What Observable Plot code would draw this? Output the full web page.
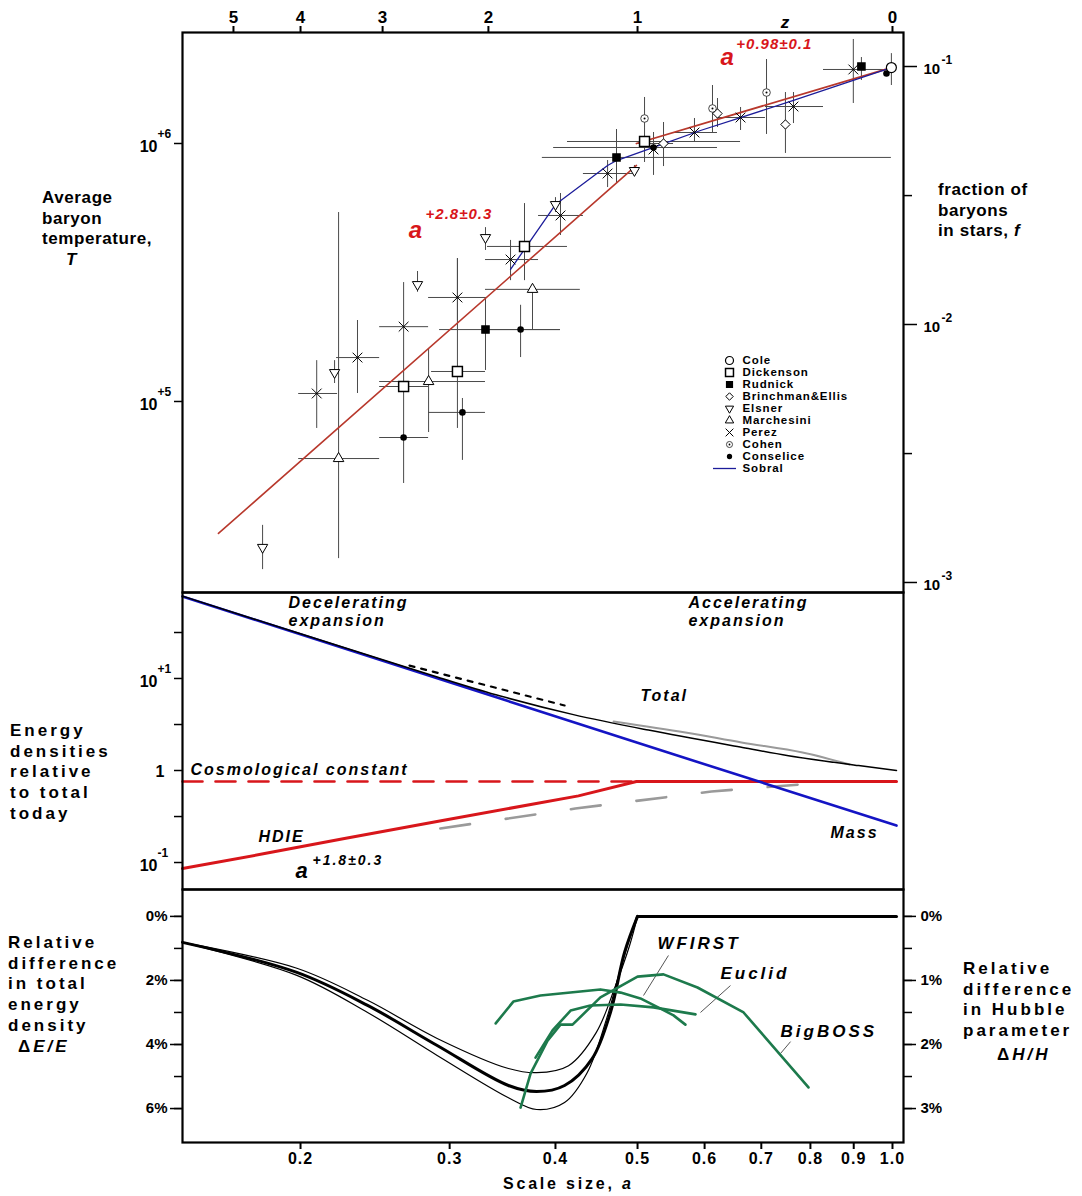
<!DOCTYPE html>
<html><head><meta charset="utf-8">
<script src="https://cdn.jsdelivr.net/npm/d3@7"></script>
<script src="https://cdn.jsdelivr.net/npm/@observablehq/plot@0.6"></script>
<style>
body{margin:0;background:#fff;}
#wrap{position:relative;width:1082px;height:1196px;font-family:"Liberation Sans",Arial,sans-serif;font-weight:bold;color:#000;overflow:hidden;}
.lab{position:absolute;font-size:17px;line-height:20.7px;font-weight:bold;letter-spacing:0.6px;white-space:nowrap;}
.wide{letter-spacing:3px;}
.panel{position:absolute;left:0;}
.panel svg{overflow:visible;}
</style></head><body><div id="wrap"></div>
<script>
// ---------------- DATA ----------------
// top axis (redshift) and bottom axis (scale size) ticks
const zTicks = [5, 4, 3, 2, 1, 0];
const aTicks = [0.2, 0.3, 0.4, 0.5, 0.6, 0.7, 0.8, 0.9, 1.0];
const tempTicks = [1e6, 1e5];
const fracMajor = [1e-1, 1e-2, 1e-3];
const fracMinor = [0.0316, 0.00316];
const fracToT = 1.988e7;          // T corresponding to f = 1
const energyMajor = [10, 1, 0.1];
const energyMinor = [31.6, 10, 3.16, 1, 0.316, 0.1];
const dEMajor = [0, 2, 4, 6];
const dEMinor = [0, 1, 2, 3, 4, 5, 6];

// Top panel observations: scale size a, temperature T (K) with error ranges
const cole = [{a:0.997, T:1.97e6, TLo:1.678e6, THi:2.23e6}];
const dickenson = [
 {a:0.2647, aLo:0.248, aHi:0.2833, T:1.143e5, TLo:4.81e4, THi:2.89e5},
 {a:0.3064, aLo:0.2856, aHi:0.3307, T:1.307e5, TLo:7.86e4, THi:3.58e5},
 {a:0.3677, aLo:0.3325, aHi:0.4133, T:3.99e5, TLo:2.94e5, THi:5.85e5},
 {a:0.5096, aLo:0.4133, aHi:0.6616, T:1.018e6, TLo:8.44e5, THi:1.153e6}
];
const rudnick = [
 {a:0.3307, aLo:0.2919, aHi:0.4055, T:1.90e5, TLo:1.319e5, THi:2.53e5},
 {a:0.4722, aLo:0.386, aHi:0.997, T:8.83e5, TLo:7.0e5, THi:1.133e6},
 {a:0.919, T:1.988e6, TLo:1.755e6, THi:2.154e6}
];
const brinchman = [
 {a:0.5366, aLo:0.5, aHi:0.5514, T:1.0e6, TLo:8.14e5, THi:1.206e6},
 {a:0.6214, T:1.307e6, TLo:1.153e6, THi:1.494e6},
 {a:0.7475, T:1.185e6, TLo:9.15e5, THi:1.576e6}
];
const elsner = [
 {a:0.1804, T:2.72e4, TLo:2.23e4, THi:3.31e4},
 {a:0.2194, T:1.295e5, TLo:1.174e5, THi:1.44e5},
 {a:0.2749, T:2.84e5, TLo:2.65e5, THi:3.19e5},
 {a:0.3307, T:4.32e5, TLo:3.85e5, THi:4.72e5},
 {a:0.400, T:5.80e5, TLo:5.40e5, THi:6.17e5},
 {a:0.4958, T:7.86e5, TLo:7.52e5, THi:8.22e5}
];
const marchesini = [
 {a:0.2218, aLo:0.199, aHi:0.248, T:6.01e4, TLo:2.46e4, THi:5.40e5},
 {a:0.2833, aLo:0.248, aHi:0.3307, T:1.195e5, TLo:7.58e4, THi:1.605e5},
 {a:0.3758, aLo:0.3307, aHi:0.428, T:2.72e5, TLo:1.885e5, THi:2.72e5}
];
const perez = [
 {a:0.209, aLo:0.199, aHi:0.2212, T:1.074e5, TLo:7.86e4, THi:1.44e5},
 {a:0.2335, aLo:0.2206, aHi:0.248, T:1.48e5, TLo:1.074e5, THi:2.06e5},
 {a:0.2647, aLo:0.248, aHi:0.2833, T:1.95e5},
 {a:0.3064, aLo:0.2833, aHi:0.3307, T:2.53e5, TLo:2.06e5, THi:3.58e5},
 {a:0.354, aLo:0.3307, aHi:0.382, T:3.55e5, TLo:2.94e5, THi:4.21e5},
 {a:0.4055, aLo:0.382, aHi:0.4316, T:5.26e5, TLo:4.40e5, THi:6.40e5},
 {a:0.4609, aLo:0.4316, aHi:0.4945, T:7.65e5, TLo:6.75e5, THi:8.59e5},
 {a:0.5222, T:9.48e5, TLo:7.52e5, THi:1.103e6},
 {a:0.5837, aLo:0.5514, aHi:0.6214, T:1.103e6, TLo:1.009e6, THi:1.25e6},
 {a:0.6616, aLo:0.6214, aHi:0.708, T:1.261e6, TLo:1.123e6, THi:1.379e6},
 {a:0.764, aLo:0.708, aHi:0.829, T:1.391e6, TLo:1.195e6, THi:1.576e6},
 {a:0.899, aLo:0.829, aHi:0.9758, T:1.936e6, TLo:1.429e6, THi:2.53e6}
];
const cohen = [
 {a:0.5096, T:1.25e6, TLo:1.153e6, THi:1.508e6},
 {a:0.613, T:1.367e6, TLo:1.103e6, THi:1.678e6},
 {a:0.71, T:1.576e6, TLo:1.084e6, THi:2.116e6}
];
const conselice = [
 {a:0.2647, aLo:0.248, aHi:0.2833, T:7.25e4},
 {a:0.3106, aLo:0.2833, aHi:0.3307, T:9.07e4, TLo:5.91e4, THi:1.027e5},
 {a:0.3638, aLo:0.3307, aHi:0.4055, T:1.90e5, TLo:1.48e5, THi:2.36e5},
 {a:0.5222, aLo:0.398, aHi:0.6214, T:9.65e5},
 {a:0.9838, T:1.867e6}
];
const sobral = [
 {a:0.354, T:3.25e5}, {a:0.400, T:5.80e5}, {a:0.4609, T:8.22e5}, {a:0.4722, T:8.59e5},
 {a:0.5222, T:9.65e5}, {a:0.5933, T:1.123e6}, {a:0.6616, T:1.261e6}, {a:0.764, T:1.468e6}, {a:0.997, T:1.97e6}
];
const fitEarly = [{a:0.160, T:3.08e4}, {a:0.4985, T:8.22e5}];
const fitLate = [{a:0.4985, T:1.0e6}, {a:0.997, T:1.97e6}];

// Middle panel: energy densities relative to total today
const mass = [{a:0.1451, v:78}, {a:0.3, v:9.1}, {a:0.5, v:2.0}, {a:1.011, v:0.252}];
const total = [{a:0.1451, v:78.5}, {a:0.2, v:30.6}, {a:0.29, v:10.4}, {a:0.3444, v:6.45}, {a:0.42, v:4.05},
  {a:0.515, v:2.75}, {a:0.665, v:1.78}, {a:0.7536, v:1.45}, {a:0.912, v:1.13}, {a:1.011, v:1.0}];
const totalAlt = [{a:0.269, v:12.8}, {a:0.410, v:4.72}];
const totalGray = [{a:0.4685, v:3.41}, {a:0.5695, v:2.59}, {a:0.6633, v:2.02}, {a:0.783, v:1.57}, {a:0.89, v:1.16}];
const lambdaConst = [{a:0.1451, v:0.76}, {a:0.4985, v:0.76}];
const hdie = [{a:0.1451, v:0.0861}, {a:0.1814, v:0.125}, {a:0.2254, v:0.182}, {a:0.2942, v:0.286},
  {a:0.4258, v:0.53}, {a:0.4985, v:0.76}, {a:1.011, v:0.76}];
const hdieGray = [{a:0.2925, v:0.234}, {a:0.4222, v:0.386}, {a:0.6113, v:0.591}, {a:0.8043, v:0.722}];

// Bottom panel: relative difference in total energy density (%)
const dEmid = [{a:0.1451, p:0.81}, {a:0.198, p:1.75}, {a:0.24, p:2.78}, {a:0.29, p:4.03}, {a:0.352, p:5.28},
  {a:0.38, p:5.47}, {a:0.41, p:5.28}, {a:0.442, p:4.44}, {a:0.4645, p:3.0}, {a:0.4827, p:1.12}, {a:0.5, p:0}];
const dEflat = [{a:0.5, p:0}, {a:1.011, p:0}];
const dEupper = [{a:0.1451, p:0.81}, {a:0.198, p:1.62}, {a:0.24, p:2.62}, {a:0.29, p:3.81}, {a:0.352, p:4.75},
  {a:0.38, p:4.88}, {a:0.4145, p:4.66}, {a:0.447, p:3.62}, {a:0.471, p:2.16}, {a:0.4893, p:0.91}, {a:0.5, p:0}];
const dElower = [{a:0.1451, p:0.81}, {a:0.198, p:1.84}, {a:0.24, p:3.0}, {a:0.29, p:4.34}, {a:0.352, p:5.66},
  {a:0.38, p:6.03}, {a:0.41, p:5.81}, {a:0.436, p:4.88}, {a:0.4597, p:3.19}, {a:0.4775, p:1.62}, {a:0.4987, p:0}];
const wfirst = [{a:0.340, p:3.34}, {a:0.3567, p:2.66}, {a:0.384, p:2.47}, {a:0.452, p:2.28}, {a:0.4775, p:2.38},
  {a:0.5039, p:2.56}, {a:0.5323, p:2.88}, {a:0.5514, p:3.09}, {a:0.5695, p:3.38}];
const euclid = [{a:0.3789, p:4.41}, {a:0.3968, p:3.56}, {a:0.4168, p:2.94}, {a:0.4398, p:2.78}, {a:0.4775, p:2.75},
  {a:0.5222, p:2.84}, {a:0.5854, p:3.06}];
const bigboss = [{a:0.3638, p:5.97}, {a:0.3738, p:4.91}, {a:0.3915, p:3.88}, {a:0.4055, p:3.38}, {a:0.419, p:3.38},
  {a:0.452, p:2.53}, {a:0.5, p:1.88}, {a:0.5366, p:1.81}, {a:0.5885, p:2.22}, {a:0.6671, p:3.0}, {a:0.7958, p:5.34}];
const leaders = [
  {name:"WFIRST", a1:0.5438, p1:1.22, a2:0.5082, p2:2.47},
  {name:"Euclid", a1:0.6437, p1:2.16, a2:0.5933, p2:3.0},
  {name:"BigBOSS", a1:0.758, p1:3.91, a2:0.7376, p2:4.28}
];
const missionLabels = [
  {text:"WFIRST", a:0.5278, p:0.84}, {text:"Euclid", a:0.6264, p:1.78}, {text:"BigBOSS", a:0.7376, p:3.59}
];
const legendNames = ["Cole","Dickenson","Rudnick","Brinchman&Ellis","Elsner","Marchesini","Perez","Cohen","Conselice","Sobral"];

// ---------------- STYLE ----------------
const FONT = '"Liberation Sans", Arial, sans-serif';
const RED = "#d8161b", FIT = "#b8382c", NAVY = "#1c1c9a", BLUE = "#1414c4", GREEN = "#1d7a4c";
const W = 1082, ML = 182, MR = 1082 - 903;
const xDomain = [0.1451, 1.0304];
const wrap = document.getElementById("wrap");

function place(node, top) {
  const d = document.createElement("div");
  d.className = "panel"; d.style.top = top + "px";
  d.appendChild(node); wrap.appendChild(d);
}
function label(html, left, top, extra = "", cls = "") {
  const d = document.createElement("div");
  d.className = "lab " + cls; d.style.left = left + "px"; d.style.top = top + "px";
  d.style.cssText += extra; d.innerHTML = html; wrap.appendChild(d);
}
function spaceItalic(svg, px) {
  d3.select(svg).selectAll('g[font-style="italic"] text').style("letter-spacing", px + "px");
}
const sty = {fontFamily: FONT, fontWeight: "bold", fontSize: "15px", overflow: "visible", background: "transparent"};

const sym = {
  cole: {symbol:"circle", r:5, fill:"white", stroke:"black", strokeWidth:1.2},
  dickenson: {symbol:"square", r:5.6, fill:"white", stroke:"black", strokeWidth:1.5},
  rudnick: {symbol:"square", r:4, fill:"black", stroke:"black"},
  brinchman: {symbol:"diamond2", r:4.2, fill:"white", stroke:"black", strokeWidth:1},
  elsner: {symbol:"triangle", r:3.8, rotate:180, fill:"white", stroke:"black", strokeWidth:1},
  marchesini: {symbol:"triangle", r:3.9, fill:"white", stroke:"black", strokeWidth:1},
  perez: {symbol:"times", r:4.5, stroke:"black", strokeWidth:1},
  cohen: {symbol:"circle", r:3.8, fill:"white", stroke:"#333", strokeWidth:0.9},
  conselice: {symbol:"circle", r:3.3, fill:"black", stroke:"none"}
};
const allObs = [...cole, ...dickenson, ...rudnick, ...brinchman, ...elsner, ...marchesini, ...perez, ...cohen, ...conselice];

// ---------------- TOP PANEL ----------------
const topPlot = Plot.plot({
  width: W, height: 592, marginTop: 32, marginBottom: 0, marginLeft: ML, marginRight: MR,
  x: {type: "log", domain: xDomain, axis: null},
  y: {type: "log", domain: [1.818e4, 2.693e6], axis: null},
  style: sty,
  marks: [
    Plot.ruleX(allObs.filter(d => d.TLo != null), {x: "a", y1: "TLo", y2: "THi", stroke: "#4a4a4a", strokeWidth: 1}),
    Plot.ruleY(allObs.filter(d => d.aLo != null), {y: "T", x1: "aLo", x2: "aHi", stroke: "#4a4a4a", strokeWidth: 1}),
    Plot.line(fitEarly, {x: "a", y: "T", stroke: FIT, strokeWidth: 1.6}),
    Plot.line(fitLate, {x: "a", y: "T", stroke: FIT, strokeWidth: 1.8}),
    Plot.line(sobral, {x: "a", y: "T", stroke: NAVY, strokeWidth: 1.3}),
    Plot.dot(cohen, {x: "a", y: "T", ...sym.cohen}),
    Plot.dot(cohen, {x: "a", y: "T", r: 1, fill: "black"}),
    Plot.dot(brinchman, {x: "a", y: "T", ...sym.brinchman}),
    Plot.dot(elsner, {x: "a", y: "T", ...sym.elsner}),
    Plot.dot(marchesini, {x: "a", y: "T", ...sym.marchesini}),
    Plot.dot(perez, {x: "a", y: "T", ...sym.perez}),
    Plot.dot(dickenson, {x: "a", y: "T", ...sym.dickenson}),
    Plot.dot(rudnick, {x: "a", y: "T", ...sym.rudnick}),
    Plot.dot(conselice, {x: "a", y: "T", ...sym.conselice}),
    Plot.dot(cole, {x: "a", y: "T", ...sym.cole}),
    // fit annotations
    Plot.text([{a:0.2684, T:4.62e5}], {x:"a", y:"T", text:() => "a", fill:RED, fontSize:24, fontStyle:"italic", textAnchor:"start"}),
    Plot.text([{a:0.281, T:5.3e5}], {x:"a", y:"T", text:() => "+2.8\u00b10.3", fill:RED, fontSize:15, fontStyle:"italic", textAnchor:"start"}),
    Plot.text([{a:0.6264, T:2.16e6}], {x:"a", y:"T", text:() => "a", fill:RED, fontSize:24, fontStyle:"italic", textAnchor:"start"}),
    Plot.text([{a:0.654, T:2.42e6}], {x:"a", y:"T", text:() => "+0.98\u00b10.1", fill:RED, fontSize:15, fontStyle:"italic", textAnchor:"start"}),
    Plot.frame({stroke: "black", strokeWidth: 2.2}),
    // top redshift axis
    Plot.axisX({anchor: "top", ticks: zTicks.map(z => 1 / (1 + z)), tickFormat: a => String(Math.round(1 / a - 1)),
      tickSize: 7, tickPadding: 3, fontSize: 17, strokeWidth: 2, label: null}),
    Plot.text(["z"], {x: () => 0.7475, frameAnchor: "top", dy: -17, text: d => d, fontSize: 17, fontStyle: "italic"}),
    // left temperature axis
    Plot.axisY({anchor: "left", ticks: tempTicks, tickSize: 8, tickFormat: () => "", strokeWidth: 1.5, label: null}),
    Plot.text(tempTicks, {y: d => d, frameAnchor: "left", dx: -25, dy: 3, text: () => "10", textAnchor: "end", fontSize: 16}),
    Plot.text(tempTicks, {y: d => d, frameAnchor: "left", dx: -25, dy: -9, text: d => "+" + Math.round(Math.log10(d)), textAnchor: "start", fontSize: 12}),
    // right fraction axis
    Plot.axisY({anchor: "right", ticks: fracMajor.map(f => f * fracToT), tickSize: 13, tickFormat: () => "", strokeWidth: 1.5, label: null}),
    Plot.axisY({anchor: "right", ticks: fracMinor.map(f => f * fracToT), tickSize: 8, tickFormat: () => "", strokeWidth: 1.5, label: null}),
    Plot.text(fracMajor, {y: d => d * fracToT, frameAnchor: "right", dx: 20, dy: 3, text: () => "10", textAnchor: "start", fontSize: 15}),
    Plot.text(fracMajor, {y: d => d * fracToT, frameAnchor: "right", dx: 38, dy: -6, text: d => "-" + Math.round(-Math.log10(d)), textAnchor: "start", fontSize: 12})
  ]
});
spaceItalic(topPlot, 1);
place(topPlot, 0);

// legend
const legendData = legendNames.map(n => ({n}));
const legKey = {Cole:"cole", Dickenson:"dickenson", Rudnick:"rudnick", "Brinchman&Ellis":"brinchman", Elsner:"elsner",
  Marchesini:"marchesini", Perez:"perez", Cohen:"cohen", Conselice:"conselice"};
const legendMarks = [];
for (const n of legendNames) {
  const one = legendData.filter(d => d.n === n);
  if (n === "Sobral") {
    legendMarks.push(Plot.ruleY(one, {y: "n", x1: 8, x2: 31, stroke: NAVY, strokeWidth: 1.3}));
  } else {
    const s = {...sym[legKey[n]]}; s.r = s.r * 0.8;
    legendMarks.push(Plot.dot(one, {y: "n", x: () => 24, ...s}));
    if (n === "Cohen") legendMarks.push(Plot.dot(one, {y: "n", x: () => 24, r: 0.9, fill: "black"}));
  }
}
legendMarks.push(Plot.text(legendData, {y: "n", x: () => 37, text: "n", textAnchor: "start", fontSize: 11.5}));
const legendPlot = Plot.plot({
  width: 170, height: 130, margin: 0,
  x: {domain: [0, 170], range: [0, 170], axis: null},
  y: {type: "point", domain: legendNames, range: [8, 120], padding: 0, axis: null},
  style: {...sty, letterSpacing: "0.9px"}, marks: legendMarks
});
const lg = document.createElement("div"); lg.className = "panel"; lg.style.left = "705px"; lg.style.top = "350px";
lg.appendChild(legendPlot); wrap.appendChild(lg);

// ---------------- MIDDLE PANEL ----------------
const midPlot = Plot.plot({
  width: W, height: 297, marginTop: 0, marginBottom: 0, marginLeft: ML, marginRight: MR,
  x: {type: "log", domain: xDomain, axis: null},
  y: {type: "log", domain: [0.0509, 86.0], axis: null},
  style: sty,
  marks: [
    Plot.line(hdieGray, {x: "a", y: "v", stroke: "#9a9a9a", strokeWidth: 2.6, strokeDasharray: "30,36"}),
    Plot.line(totalGray, {x: "a", y: "v", stroke: "#9a9a9a", strokeWidth: 2, curve: "catmull-rom"}),
    Plot.line(lambdaConst, {x: "a", y: "v", stroke: RED, strokeWidth: 2.6, strokeDasharray: "20,13"}),
    Plot.line(hdie, {x: "a", y: "v", stroke: RED, strokeWidth: 3}),
    Plot.line(mass, {x: "a", y: "v", stroke: BLUE, strokeWidth: 2.6}),
    Plot.line(total, {x: "a", y: "v", stroke: "black", strokeWidth: 1.5, curve: "catmull-rom"}),
    Plot.line(totalAlt, {x: "a", y: "v", stroke: "black", strokeWidth: 2.2, strokeDasharray: "5,7", dy: -3}),
    Plot.text(["Decelerating", "expansion"], {x: () => 0.1936, y: (d, i) => [67, 42.7][i], text: d => d, textAnchor: "start", fontStyle: "italic", fontSize: 16}),
    Plot.text(["Accelerating", "expansion"], {x: () => 0.5742, y: (d, i) => [67, 42.7][i], text: d => d, textAnchor: "start", fontStyle: "italic", fontSize: 16}),
    Plot.text(["Total"], {x: () => 0.5039, y: () => 6.53, text: d => d, textAnchor: "start", fontStyle: "italic", fontSize: 16}),
    Plot.text(["Cosmological constant"], {x: () => 0.1483, y: () => 1.025, text: d => d, textAnchor: "start", fontStyle: "italic", fontSize: 16}),
    Plot.text(["HDIE"], {x: () => 0.1784, y: () => 0.1917, text: d => d, textAnchor: "start", fontStyle: "italic", fontSize: 16}),
    Plot.text(["Mass"], {x: () => 0.845, y: () => 0.212, text: d => d, textAnchor: "start", fontStyle: "italic", fontSize: 16}),
    Plot.text(["a"], {x: () => 0.1973, y: () => 0.0818, text: d => d, textAnchor: "start", fontStyle: "italic", fontSize: 22}),
    Plot.text(["+1.8\u00b10.3"], {x: () => 0.2066, y: () => 0.106, text: d => d, textAnchor: "start", fontStyle: "italic", fontSize: 14}),
    Plot.frame({stroke: "black", strokeWidth: 2.2}),
    Plot.axisY({anchor: "left", ticks: energyMinor, tickSize: 8, tickFormat: () => "", strokeWidth: 1.5, label: null}),
    Plot.text(energyMajor.filter(d => d !== 1), {y: d => d, frameAnchor: "left", dx: -25, dy: 3, text: () => "10", textAnchor: "end", fontSize: 16}),
    Plot.text(energyMajor.filter(d => d !== 1), {y: d => d, frameAnchor: "left", dx: -25, dy: -9,
      text: d => (d > 1 ? "+" : "-") + Math.round(Math.abs(Math.log10(d))), textAnchor: "start", fontSize: 12}),
    Plot.text([1], {y: d => d, frameAnchor: "left", dx: -18, dy: 1, text: () => "1", textAnchor: "end", fontSize: 16})
  ]
});
spaceItalic(midPlot, 2);
place(midPlot, 592);

// ---------------- BOTTOM PANEL ----------------
const botPlot = Plot.plot({
  width: W, height: 307, marginTop: 0, marginBottom: 54, marginLeft: ML, marginRight: MR,
  x: {type: "log", domain: xDomain, axis: null},
  y: {domain: [-0.84, 7.06], reverse: true, axis: null},
  style: sty,
  marks: [
    Plot.line(dEupper, {x: "a", y: "p", stroke: "black", strokeWidth: 1.2, curve: "catmull-rom"}),
    Plot.line(dElower, {x: "a", y: "p", stroke: "black", strokeWidth: 1.2, curve: "catmull-rom"}),
    Plot.line(dEmid, {x: "a", y: "p", stroke: "black", strokeWidth: 3, curve: "catmull-rom"}),
    Plot.line(dEflat, {x: "a", y: "p", stroke: "black", strokeWidth: 3}),
    Plot.link(leaders, {x1: "a1", y1: "p1", x2: "a2", y2: "p2", stroke: "#555", strokeWidth: 1}),
    Plot.line(wfirst, {x: "a", y: "p", stroke: GREEN, strokeWidth: 2.6}),
    Plot.line(euclid, {x: "a", y: "p", stroke: GREEN, strokeWidth: 2.6}),
    Plot.line(bigboss, {x: "a", y: "p", stroke: GREEN, strokeWidth: 2.6}),
    Plot.text(missionLabels, {x: "a", y: "p", text: "text", textAnchor: "start", fontStyle: "italic", fontSize: 17}),
    Plot.frame({stroke: "black", strokeWidth: 2.2}),
    Plot.axisX({anchor: "bottom", ticks: aTicks, tickFormat: d3.format(".1f"), tickSize: 7, tickPadding: 3, fontSize: 16, strokeWidth: 2, label: null}),
    Plot.axisY({anchor: "left", ticks: dEMajor, tickSize: 12, tickFormat: () => "", strokeWidth: 1.5, label: null}),
    Plot.axisY({anchor: "left", ticks: dEMinor, tickSize: 8, tickFormat: () => "", strokeWidth: 1.5, label: null}),
    Plot.text(dEMajor, {y: d => d, frameAnchor: "left", dx: -15, text: d => d + "%", textAnchor: "end", fontSize: 15}),
    Plot.axisY({anchor: "right", ticks: dEMajor, tickSize: 12, tickFormat: () => "", strokeWidth: 1.5, label: null}),
    Plot.axisY({anchor: "right", ticks: dEMinor, tickSize: 8, tickFormat: () => "", strokeWidth: 1.5, label: null}),
    Plot.text(dEMajor, {y: d => d, frameAnchor: "right", dx: 17, text: d => (d / 2) + "%", textAnchor: "start", fontSize: 15})
  ]
});
spaceItalic(botPlot, 3);
d3.select(botPlot).selectAll('g[aria-label="x-axis tick label"] text').style("letter-spacing", "1px");
place(botPlot, 889);

// ---------------- SIDE LABELS ----------------
label("Average<br>baryon<br>temperature,<br><i style='padding-left:24px'>T</i>", 42, 188);
label("fraction of<br>baryons<br>in stars, <i>f</i>", 938, 180);
label("Energy<br>densities<br>relative<br>to total<br>today", 10, 721, "", "wide");
label("Relative<br>difference<br>in total<br>energy<br>density<br><span style='padding-left:10px'>\u0394<i>E/E</i></span>", 8, 933, "", "wide");
label("Relative<br>difference<br>in Hubble<br>parameter<br><span style='padding-left:34px;line-height:26px'>\u0394<i>H/H</i></span>", 963, 959, "", "wide");
label("Scale size, <i>a</i>", 503, 1174, "font-size:16px;letter-spacing:2.8px;");
</script></body></html>
